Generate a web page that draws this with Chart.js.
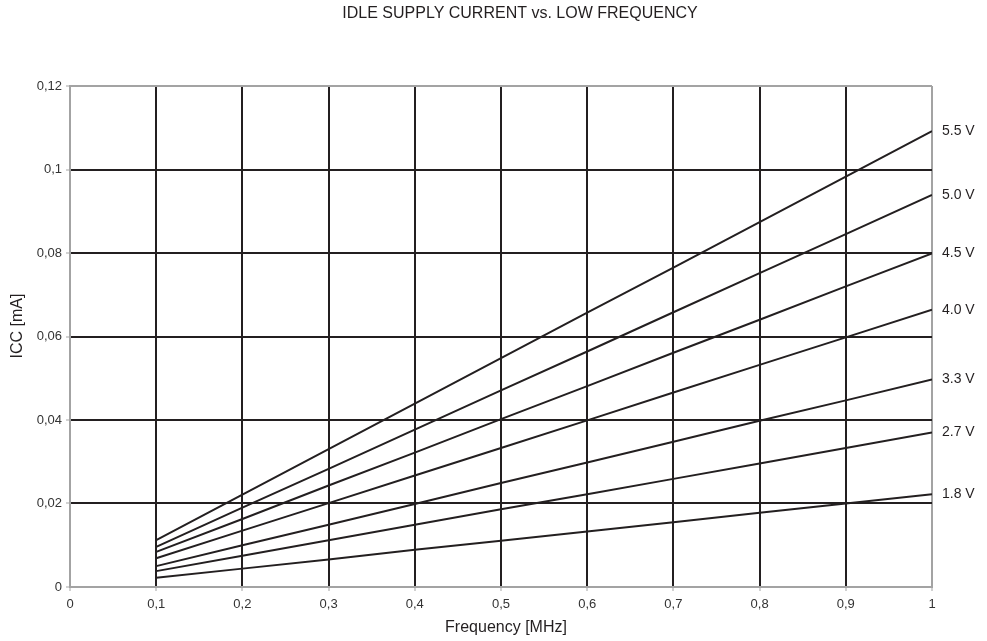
<!DOCTYPE html>
<html>
<head>
<meta charset="utf-8">
<script src="https://cdn.jsdelivr.net/npm/chart.js@4.4.0/dist/chart.umd.min.js"></script>
<style>
    body { margin: 0; background: #fff; }
    #wrap { width: 987px; height: 641px; }
</style>
</head>
<body>
<div id="wrap"><canvas id="iccChart" width="987" height="641"></canvas></div>
<script>
// Frekans noktalari (MHz)
const frequencies = [0.1, 0.2, 0.3, 0.4, 0.5, 0.6, 0.7, 0.8, 0.9, 1.0];

// Besleme gerilimine gore ICC (mA)
const voltageLabels = ['5.5 V', '5.0 V', '4.5 V', '4.0 V', '3.3 V', '2.7 V', '1.8 V'];
const icc55 = [0.0112, 0.0221, 0.0330, 0.0439, 0.0548, 0.0657, 0.0765, 0.0874, 0.0983, 0.1092];
const icc50 = [0.0096, 0.0190, 0.0283, 0.0377, 0.0471, 0.0564, 0.0658, 0.0752, 0.0845, 0.0939];
const icc45 = [0.0084, 0.0163, 0.0243, 0.0322, 0.0402, 0.0481, 0.0561, 0.0640, 0.0720, 0.0799];
const icc40 = [0.0069, 0.0135, 0.0201, 0.0267, 0.0333, 0.0399, 0.0466, 0.0532, 0.0598, 0.0664];
const icc33 = [0.0050, 0.0100, 0.0149, 0.0199, 0.0249, 0.0298, 0.0348, 0.0398, 0.0447, 0.0497];
const icc27 = [0.0038, 0.0075, 0.0112, 0.0149, 0.0186, 0.0222, 0.0259, 0.0296, 0.0333, 0.0370];
const icc18 = [0.0022, 0.0044, 0.0066, 0.0089, 0.0111, 0.0133, 0.0155, 0.0178, 0.0200, 0.0222];
const iccSeries = [icc55, icc50, icc45, icc40, icc33, icc27, icc18];

// Eksen ayarlari
const xMin = 0, xMax = 1, xStep = 0.1;
const yMin = 0, yMax = 0.12, yStep = 0.02;

const lineColor = '#231f20';
const borderGray = '#a3a3a3';
const fontFamily = '"Liberation Sans", Arial, sans-serif';

function commaFormat(v) {
    const r = Math.round(v * 100) / 100;
    return String(r).replace('.', ',');
}

// Cizgilerin sag ucuna gerilim etiketleri
const endLabels = {
    id: 'endLabels',
    afterDatasetsDraw(chart) {
        const ctx = chart.ctx;
        ctx.save();
        ctx.font = '14px ' + fontFamily;
        ctx.fillStyle = lineColor;
        ctx.textAlign = 'left';
        ctx.textBaseline = 'middle';
        chart.data.datasets.forEach((ds, i) => {
            const meta = chart.getDatasetMeta(i);
            const last = meta.data[meta.data.length - 1];
            ctx.fillText(ds.label, last.x + 10, last.y);
        });
        ctx.restore();
    }
};

// Baslik ve eksen basliklari
const chartTexts = {
    id: 'chartTexts',
    afterDraw(chart) {
        const ctx = chart.ctx;
        ctx.save();
        ctx.font = '16px ' + fontFamily;
        ctx.fillStyle = lineColor;
        ctx.textAlign = 'center';
        ctx.textBaseline = 'middle';
        ctx.fillText('IDLE SUPPLY CURRENT vs. LOW FREQUENCY', 520, 14);
        ctx.fillText('Frequency [MHz]', 506, 628);
        ctx.translate(18, 326);
        ctx.rotate(-Math.PI / 2);
        ctx.fillText('ICC [mA]', 0, 0);
        ctx.restore();
    }
};

const datasets = iccSeries.map((vals, i) => ({
    label: voltageLabels[i],
    data: frequencies.map((f, j) => ({ x: f, y: vals[j] })),
    borderColor: lineColor,
    borderWidth: 2,
    pointRadius: 0,
    fill: false,
    tension: 0
}));

function gridColor(c, max) {
    const v = c.tick ? c.tick.value : 0;
    return (Math.abs(v) < 1e-9 || Math.abs(v - max) < 1e-9) ? borderGray : lineColor;
}

const ctx = document.getElementById('iccChart').getContext('2d');
const iccChart = new Chart(ctx, {
    type: 'line',
    data: { datasets: datasets },
    plugins: [endLabels, chartTexts],
    options: {
        responsive: false,
        animation: false,
        layout: { padding: { left: 0, right: 55, top: 86, bottom: 0 } },
        plugins: {
            legend: { display: false },
            tooltip: { enabled: false },
            title: { display: false }
        },
        scales: {
            x: {
                type: 'linear',
                min: xMin,
                max: xMax,
                ticks: {
                    stepSize: xStep,
                    padding: 6,
                    color: '#333',
                    font: { size: 13, family: fontFamily },
                    maxRotation: 0,
                    callback: v => commaFormat(v)
                },
                grid: {
                    color: c => gridColor(c, xMax),
                    lineWidth: 2,
                    tickLength: 4,
                    tickColor: borderGray,
                    tickWidth: 1
                },
                border: { display: true, color: borderGray, width: 2 },
                afterFit: scale => { scale.height = 54; }
            },
            y: {
                min: yMin,
                max: yMax,
                ticks: {
                    stepSize: yStep,
                    padding: 4,
                    color: '#333',
                    font: { size: 13, family: fontFamily },
                    callback: v => commaFormat(v)
                },
                grid: {
                    color: c => gridColor(c, yMax),
                    lineWidth: 2,
                    tickLength: 4,
                    tickColor: borderGray,
                    tickWidth: 1
                },
                border: { display: true, color: borderGray, width: 2 },
                afterFit: scale => { scale.width = 70; }
            }
        }
    }
});
</script>
</body>
</html>
